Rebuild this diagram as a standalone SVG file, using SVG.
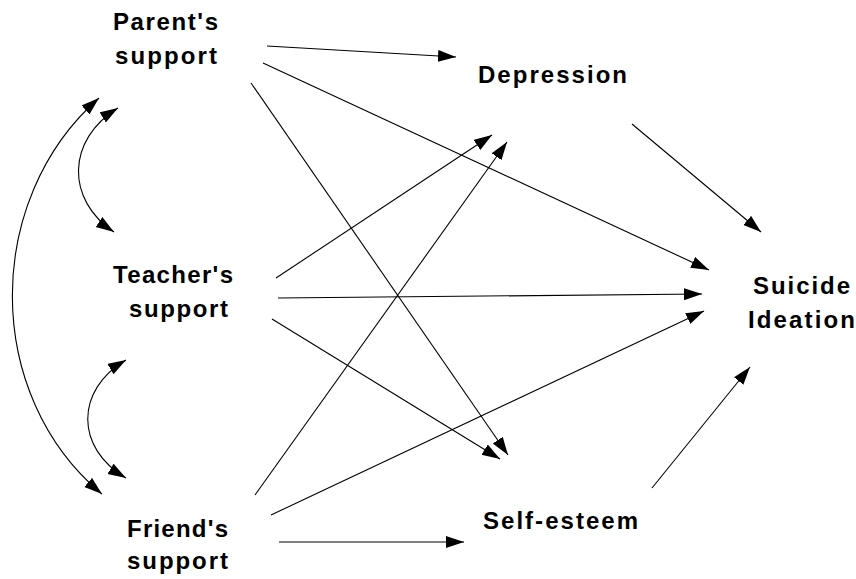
<svg xmlns="http://www.w3.org/2000/svg" width="856" height="579" viewBox="0 0 856 579">
<style>
.lbl{font-family:"Liberation Sans",Arial,sans-serif;font-weight:bold;font-size:24px;fill:#000}
.c{fill:none;stroke:#000;stroke-width:1.1}
.a{marker-end:url(#ah)}
.b{marker-start:url(#ah);marker-end:url(#ah)}
</style>
<defs>
<marker id="ah" markerUnits="userSpaceOnUse" markerWidth="20" markerHeight="14" refX="18" refY="6" orient="auto-start-reverse" viewBox="0 0 20 14">
<path d="M0,0 L18,6 L0,12 z" fill="#000"/>
</marker>
</defs>
<rect width="856" height="579" fill="#fff"/>
<g id="connectors">
<path class="c a" d="M267,46 L456,57"/>
<path class="c a" d="M263,63 L709,270"/>
<path class="c a" d="M251,83 L508,455"/>
<path class="c a" d="M276,278 L492,135"/>
<path class="c a" d="M255,495 L507,142"/>
<path class="c a" d="M278,298 L702,294"/>
<path class="c a" d="M272,319 L500,459"/>
<path class="c a" d="M271,515 L704,311"/>
<path class="c a" d="M279,542 L464,542"/>
<path class="c a" d="M632,124 L761,232"/>
<path class="c a" d="M652,488 L750,367"/>
<path class="c b" d="M99,98 C-17,200 -17,395 102,494"/>
<path class="c b" d="M118,108 C66,140 66,200 114,232"/>
<path class="c b" d="M126,360 C75,390 75,448 126,478"/>
</g>
<g id="parent">
<text class="lbl" x="113" y="30" textLength="105" lengthAdjust="spacing">Parent's</text>
<text class="lbl" x="115" y="64" textLength="102" lengthAdjust="spacing">support</text>
</g>
<g id="teacher">
<text class="lbl" x="113" y="283" textLength="120" lengthAdjust="spacing">Teacher's</text>
<text class="lbl" x="129" y="317" textLength="99" lengthAdjust="spacing">support</text>
</g>
<g id="friend">
<text class="lbl" x="127" y="537" textLength="101" lengthAdjust="spacing">Friend's</text>
<text class="lbl" x="127" y="569" textLength="101" lengthAdjust="spacing">support</text>
</g>
<g id="depression">
<text class="lbl" x="478" y="83" textLength="149" lengthAdjust="spacing">Depression</text>
</g>
<g id="selfesteem">
<text class="lbl" x="483" y="529" textLength="155" lengthAdjust="spacing">Self-esteem</text>
</g>
<g id="suicide">
<text class="lbl" x="753" y="294" textLength="97" lengthAdjust="spacing">Suicide</text>
<text class="lbl" x="748" y="328" textLength="107" lengthAdjust="spacing">Ideation</text>
</g>
</svg>
